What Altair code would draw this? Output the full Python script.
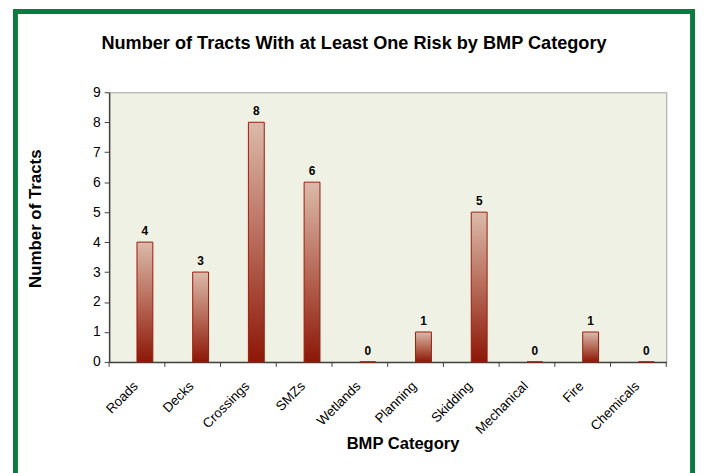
import altair as alt
import pandas as pd

categories = ["Roads", "Decks", "Crossings", "SMZs", "Wetlands", "Planning",
              "Skidding", "Mechanical", "Fire", "Chemicals"]
tracts = [4, 3, 8, 6, 0, 1, 5, 0, 1, 0]
y_ticks = list(range(0, 10))
title_text = "Number of Tracts With at Least One Risk by BMP Category"

df = pd.DataFrame({"category": categories, "tracts": tracts})
one = pd.DataFrame({"t": [title_text]})

FONT = "Liberation Sans"

xscale = alt.Scale(domain=categories, paddingInner=0, paddingOuter=0)
yscale = alt.Scale(domain=[0, 9], nice=False)

x_axis = alt.Axis(title="BMP Category", labelAngle=-45, ticks=False, labelOffset=-6,
                  titleX=296, titleY=74, titleBaseline="top")
y_axis = alt.Axis(values=y_ticks, title="Number of Tracts", titleX=-65, titleY=127)

x_enc = alt.X("category:N", sort=categories, scale=xscale, axis=x_axis)
y_enc = alt.Y("tracts:Q", scale=yscale, axis=y_axis)

grad = alt.Gradient(
    gradient="linear",
    stops=[alt.GradientStop(color="#DBBAAA", offset=0),
           alt.GradientStop(color="#B76A58", offset=0.5),
           alt.GradientStop(color="#8C1707", offset=1)],
    x1=0, x2=0, y1=0, y2=1,
)

bars = alt.Chart(df).mark_bar(
    size=16, xOffset=8, color=grad, stroke="#9A1B0C", strokeWidth=1
).encode(x=x_enc, y=y_enc)

labels = alt.Chart(df).mark_text(
    baseline="alphabetic", dy=-7, dx=8, fontWeight="bold", fontSize=12, font=FONT, color="black"
).encode(x=x_enc, y=y_enc, text="tracts:Q")

ticks = alt.Chart(df).mark_rule(color="#404040", strokeWidth=1).encode(
    x=alt.X("category:N", sort=categories, scale=xscale, axis=x_axis, bandPosition=0),
    y=alt.value(272), y2=alt.value(277),
)
end_tick = alt.Chart(one).mark_rule(color="#404040", strokeWidth=1).encode(
    x=alt.value(562), y=alt.value(272), y2=alt.value(277),
)

border = alt.Chart(one).mark_rect(filled=False, stroke="#0B7A40", strokeWidth=5).encode(
    x=alt.value(-94.5), x2=alt.value(588.5), y=alt.value(-81.5), y2=alt.value(392),
)

title = alt.Chart(one).mark_text(
    font=FONT, fontSize=18.3, fontWeight="bold", color="black",
    baseline="alphabetic", align="center"
).encode(x=alt.value(247), y=alt.value(-44), text="t:N")

chart = alt.layer(border, bars, labels, ticks, end_tick, title).properties(
    width=562, height=272,
    padding={"left": 102, "top": 83, "right": 30, "bottom": 110},
    autosize=alt.AutoSizeParams(type="none"),
    background="white",
).configure_view(
    fill="#EEF1E3", stroke="#A0A0A0", strokeWidth=1
).configure_axis(
    grid=False, labelFont=FONT, labelFontSize=14, labelColor="#000000",
    domainColor="#404040", domainWidth=1.5, tickColor="#404040", tickSize=5,
    titleFont=FONT, titleFontWeight="bold", titleColor="black",
).configure_axisX(
    labelFontSize=13.5, labelPadding=17, titleFontSize=16.7,
).configure_axisY(
    labelPadding=4, titleFontSize=17,
)

chart.save("out.html", embed_options={"renderer": "svg", "actions": False})
